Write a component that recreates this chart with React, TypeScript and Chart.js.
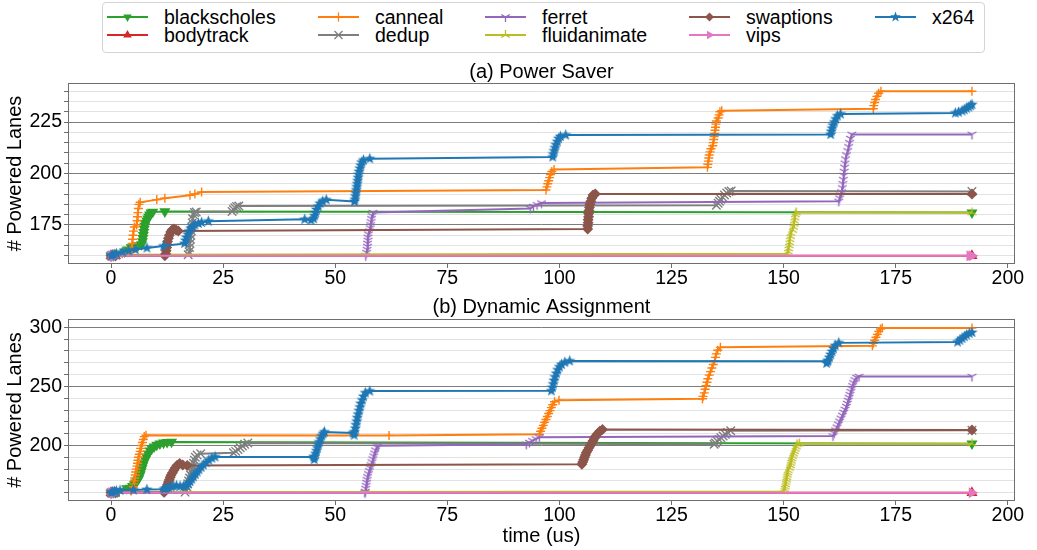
import React, { useEffect, useRef } from 'react';
import { Chart, registerables } from 'chart.js';

Chart.register(...registerables);

// ---------------- data ----------------
const seriesNames = ['blackscholes', 'bodytrack', 'canneal', 'dedup', 'ferret', 'fluidanimate', 'swaptions', 'vips', 'x264'];

const xTickValues = [0, 25, 50, 75, 100, 125, 150, 175, 200];
const topGridValues = [160, 165, 170, 175, 180, 185, 190, 195, 200, 205, 210, 215, 220, 225, 230, 235, 240];
const topLabelValues = [175, 200, 225];
const bottomGridValues = [160, 170, 180, 190, 200, 210, 220, 230, 240, 250, 260, 270, 280, 290, 300];
const bottomLabelValues = [200, 250, 300];

// (a) Power Saver  [time, lanes]
const psBlackscholes = [[0,160],[0.5,160.2],[1,160.5],[3,162],[3.8,163],[4.5,164],[5.3,164.5],[6,165],[6.8,165.5],[7,167],[7.1,168.5],[7.2,170],[7.3,171.5],[7.4,173],[7.5,174.5],[7.6,176],[8,177],[8.2,178],[8.4,179],[8.6,180],[8.9,181],[9.3,181.3],[12,181.5],[192,181]];
const psBodytrack = [[0,160],[0.3,160],[0.7,160],[1,160],[192,160]];
const psCanneal = [[0,160],[1,160.3],[2.5,161],[3.8,161.5],[4.5,162],[4.6,164],[4.7,166],[4.8,168],[4.9,170],[5,172],[5.2,174],[5.7,175],[5.8,177],[5.9,179],[6,181],[6.1,183],[6.2,185],[6.5,186],[10.2,187.3],[12,188],[17.6,189.4],[18.7,190],[20.2,191],[97,192],[97.2,193.5],[97.4,195],[97.6,196.5],[97.8,198],[98,199.5],[98.3,201],[98.8,202],[133,203],[133.1,204.5],[133.2,206],[133.3,207.5],[133.4,209],[133.6,210.5],[133.8,212],[134.2,213.5],[134.3,215],[134.4,216.5],[134.5,218],[134.6,219.5],[134.7,221],[134.8,222.5],[134.9,224],[135,225.5],[135.4,227],[135.6,228.5],[135.8,230],[136.2,230.5],[170,231.5],[170.1,233],[170.3,234.5],[170.5,236],[170.8,237.5],[171.2,239],[171.7,240],[192,240]];
const psDedup = [[0,160],[1,160.3],[17.2,160.5],[17.4,162],[17.5,164],[17.6,166],[17.7,168],[17.8,170],[17.9,172],[18,174],[18.1,176],[18.2,178],[18.4,180],[18.6,181],[19,181.3],[27,181.5],[27.3,182.5],[27.6,183.3],[28,184],[28.5,184.2],[135,184.6],[135.4,185.5],[135.7,186.5],[136,187.5],[136.4,188.5],[136.8,189.5],[137.3,190.5],[137.8,191.2],[138.3,191.5],[192,191.3]];
const psFerret = [[0,160],[1,160],[56.8,160],[57,161.5],[57.1,163],[57.2,164.5],[57.2,166],[57.3,167.5],[57.3,169],[57.4,170.5],[57.6,172],[57.8,173.5],[57.9,175],[58,176.5],[58.1,178],[58.2,179.5],[58.4,181],[93.5,183],[94.2,184],[95,184.8],[96,185.6],[162.3,186.5],[162.5,188],[162.7,189.5],[162.9,191],[163.1,193],[163.2,195],[163.3,197],[163.4,199],[163.5,201],[163.6,203],[163.7,205],[163.8,207],[164,209],[164.3,211],[164.5,213],[164.7,215],[164.9,217],[165.2,219],[192,219]];
const psFluidanimate = [[0,160],[0.5,160.5],[1,160.5],[150.8,161],[151,162],[151.1,163.5],[151.2,165],[151.3,166.5],[151.4,168],[151.5,169.5],[151.6,171],[152,172.5],[152.2,174],[152.3,175.5],[152.4,177],[152.5,178.5],[152.6,180],[152.8,181],[192,181]];
const psSwaptions = [[0,160],[1,160],[12,160],[12.2,161],[12.3,162.5],[12.4,164],[12.5,165.5],[12.6,167],[12.8,168.5],[13,170],[13.3,171.5],[13.6,172.5],[14,173],[14.5,172.5],[15,172],[106.3,173],[106.3,174.5],[106.4,176],[106.4,177.5],[106.5,179],[106.5,180.5],[106.6,182],[106.7,183.5],[106.8,185],[107,186.5],[107.2,188],[107.5,189.5],[108,190],[192,190]];
const psVips = [[0,160],[0.2,160],[0.4,160],[0.6,160],[0.8,160],[1,160],[191.5,160],[192,160]];
const psX264 = [[0,160],[0.3,160.3],[0.7,160.6],[1.2,161],[2.5,161.8],[3.9,162.4],[5.4,163],[8,163.8],[11.7,164.7],[16.4,166],[16.6,167.5],[16.8,169],[17.1,170.5],[17.4,172],[17.8,173.4],[18.3,174.2],[18.7,175],[19.5,175.7],[20.2,176.2],[21.7,176.8],[43.2,177.7],[44.6,177.3],[45.2,178],[45.4,179.5],[45.6,181],[45.8,182.5],[46.2,184],[46.6,185.5],[47.2,186.5],[48,187.2],[54.3,186.4],[54.4,187.5],[54.5,189],[54.6,190.5],[54.7,192],[54.8,193.5],[54.9,195],[55,196.5],[55.1,198],[55.2,199.5],[55.3,201],[55.5,202.5],[55.7,204],[55.9,205.5],[56.3,206.5],[57.7,207.2],[98.5,208],[98.6,209.5],[98.8,211],[99,212.5],[99.2,214],[99.5,215.5],[99.8,217],[100.2,218],[101.4,218.7],[160.5,219],[160.6,220.5],[160.8,222],[161,223.5],[161.3,225],[161.6,226.5],[162,228],[162.7,228.9],[188.3,229.4],[189,229.8],[189.8,230.4],[190.3,231],[190.8,231.7],[191.3,232.3],[191.7,233],[192,233.5]];

// (b) Dynamic Assignment  [time, lanes]
const daBlackscholes = [[0,160],[0.5,160.3],[1.5,161],[3.5,163.7],[4.3,164],[4.8,165.5],[5.2,167],[5.5,168.5],[5.8,170],[6.1,171.5],[6.3,173.5],[6.5,175.5],[6.7,178],[6.9,180.5],[7.1,183],[7.3,185.5],[7.6,188],[7.9,190.5],[8.3,193],[8.7,195.5],[9.1,197.5],[9.6,199],[10.2,200.5],[10.9,201.5],[11.7,202.3],[12.5,202.8],[13.5,203],[192,201.5]];
const daBodytrack = [[0,160],[0.4,160],[0.8,160],[192,160]];
const daCanneal = [[0,160],[1,160.3],[4.5,161.5],[4.9,162.6],[5,165],[5.1,167.5],[5.2,170],[5.3,172.5],[5.4,175],[5.5,177.5],[5.6,180],[5.8,182.5],[5.9,185],[6,187.5],[6.1,190],[6.3,192.5],[6.5,195],[6.6,197.5],[6.8,200],[7,202.5],[7.2,205],[7.4,207.5],[7.8,208.6],[62,208.5],[95.5,209.5],[95.8,212],[96.1,214.5],[96.4,217],[96.7,219.5],[97,222],[97.3,224.5],[97.6,227],[97.9,229.5],[98.2,232],[98.5,234.5],[98.9,237],[99.9,238.2],[131.9,239.5],[132,241.5],[132.3,244.5],[132.5,247.5],[132.7,250.5],[132.9,253.5],[133.1,256.5],[133.4,259.5],[133.7,262.5],[134,265.5],[134.3,268.5],[134.6,271.5],[134.8,274.5],[135,277.5],[135.3,280.5],[135.9,283],[169.8,284.3],[170,286.5],[170.3,289],[170.6,291.5],[170.9,294],[171.2,296.5],[171.6,298.5],[172,299.3],[192,299.3]];
const daDedup = [[0,160],[1,160.2],[16.5,160.5],[16.7,162.5],[16.9,165],[17.1,167.5],[17.3,170],[17.5,172.5],[17.7,175],[17.9,177.5],[18.1,180],[18.3,182.5],[18.4,185],[18.6,187.5],[18.8,190],[19.2,192],[20,193],[27.3,193.8],[27.8,195],[28.3,196.5],[28.8,198],[29.3,199.5],[29.8,201],[30.5,202],[134.5,201],[134.8,202],[135.2,203.5],[135.6,205],[136,206.5],[136.5,208],[137,209.5],[137.5,211],[138.2,212.5],[192,212.8]];
const daFerret = [[0,160],[1,160],[56.6,160],[56.7,161],[56.8,163.5],[56.9,166],[57,168.5],[57.1,171],[57.2,173.5],[57.4,176],[57.6,178.5],[57.8,181],[58,183.5],[58.2,186],[58.4,188.5],[58.6,191],[58.8,193.5],[59,196],[59.3,198.5],[59.6,199.7],[92.6,201],[93.3,202.5],[94,204],[94.8,205.5],[95.5,207],[161,208],[161.3,210.5],[161.6,213],[161.9,215.5],[162.2,218],[162.5,220.5],[162.8,223],[163.1,225.5],[163.4,228],[163.7,230.5],[164,233],[164.2,235.5],[164.4,238],[164.6,240.5],[164.8,243],[165,245.5],[165.2,248],[165.4,250.5],[165.6,253],[165.9,255.5],[166.3,257.5],[166.8,258.3],[192,258.3]];
const daFluidanimate = [[0,160],[1,160.5],[150,161],[150.2,163],[150.3,165],[150.4,167],[150.5,169],[150.6,171],[150.7,173],[150.8,175],[150.9,177],[151,179],[151.3,181],[151.5,183],[151.6,185],[151.7,187],[151.8,189],[152,191],[152.2,193],[152.4,195],[152.6,197],[152.8,199],[153,201],[153.5,201.5],[192,201.5]];
const daSwaptions = [[0,160],[1,160],[11.8,160.5],[12,161],[12.2,163],[12.4,165],[12.6,167],[12.8,169],[13,171],[13.2,173],[13.4,175],[13.7,177],[14,179],[14.3,181],[14.7,183],[15.3,184.7],[16,183.5],[17,183],[105,184],[105.2,186],[105.4,188],[105.6,190],[105.8,192],[106,194],[106.3,196],[106.6,198],[106.9,200],[107.2,202],[107.5,204],[107.8,206],[108.1,208],[108.5,210],[109,212],[109.6,213.5],[192,213]];
const daVips = [[0,160],[0.2,160],[0.5,160],[0.8,160],[1,160],[192,160]];
const daX264 = [[0,160],[0.3,160.5],[0.7,161],[1.2,161.5],[2,162],[5,162.4],[8,162.7],[11.8,163],[12.2,163.5],[12.8,164.5],[13.4,165],[14,165.5],[14.6,165.8],[15.4,165.5],[16.2,165.2],[16.8,166],[17.2,167.5],[17.6,169.5],[18,171.5],[18.4,173.5],[18.8,175.5],[19.2,177.5],[19.6,179.5],[20.1,181.5],[20.6,183.5],[21.2,185.5],[21.8,187.5],[22.5,189.2],[23.2,190.3],[45.2,190.3],[45.3,188],[45.4,190.5],[45.6,193],[45.8,195.5],[46,198],[46.2,200.5],[46.4,203],[46.7,205.5],[47,208],[47.3,210],[47.6,211.4],[54,210.6],[54.2,208.7],[54.3,211.5],[54.5,214.5],[54.6,217.5],[54.8,220.5],[54.9,223.5],[55.1,226.5],[55.3,229.5],[55.5,232.5],[55.7,235.5],[56,238.5],[56.3,241.5],[56.7,244.5],[57.7,246],[98.2,246.2],[98.4,249],[98.6,252],[98.8,255],[99,258],[99.3,261],[99.6,264],[100,266.5],[100.5,268.5],[101.2,270.3],[102.3,271.5],[159.8,271.2],[159.6,269.5],[159.9,272],[160.2,274.5],[160.5,277],[160.8,279.5],[161.1,282],[161.5,284.5],[162.3,286.8],[188.8,287.5],[189.3,289],[189.8,290.5],[190.3,292],[190.8,293.5],[191.4,294.8],[192,295.6]];

const powerSaverSeries = [psBlackscholes, psBodytrack, psCanneal, psDedup, psFerret, psFluidanimate, psSwaptions, psVips, psX264];
const dynamicSeries = [daBlackscholes, daBodytrack, daCanneal, daDedup, daFerret, daFluidanimate, daSwaptions, daVips, daX264];

// ---------------- styles ----------------
const seriesColors = ['#2ca02c', '#d62728', '#ff7f0e', '#7f7f7f', '#9467bd', '#bcbd22', '#8c564b', '#e377c2', '#1f77b4'];
const seriesMarkers = ['triDownFilled', 'triUpFilled', 'plus', 'cross', 'tri1', 'tri2', 'diamond', 'triRight', 'star'];
const FONT = '"Liberation Sans", Arial, Helvetica, sans-serif';
const GRID_MAJOR = '#7d7d7d';
const GRID_MINOR = '#e2e2e2';
const FRAME = '#6e6e6e';
const TICK_SIZE = 19.5;
const LEGEND_SIZE = 19.5;

function makeMarkerImage(kind: string, color: string): HTMLCanvasElement {
  const c = document.createElement('canvas');
  c.width = 13; c.height = 13;
  const g = c.getContext('2d') as CanvasRenderingContext2D;
  g.strokeStyle = color; g.fillStyle = color; g.lineWidth = 1.4; g.lineCap = 'butt';
  const cx = 6.5, cy = 6.5;
  if (kind === 'star') {
    g.beginPath();
    for (let i = 0; i < 10; i++) {
      const rad = i % 2 === 0 ? 6 : 2.5;
      const a = -Math.PI / 2 + (i * Math.PI) / 5;
      const px = cx + rad * Math.cos(a), py = cy + rad * Math.sin(a);
      if (i === 0) g.moveTo(px, py); else g.lineTo(px, py);
    }
    g.closePath(); g.fill();
  } else {
    const r = 5;
    const arms = kind === 'tri1'
      ? [[0, r], [-0.866 * r, -0.5 * r], [0.866 * r, -0.5 * r]]
      : [[0, -r], [-0.866 * r, 0.5 * r], [0.866 * r, 0.5 * r]];
    g.beginPath();
    arms.forEach(([dx, dy]) => { g.moveTo(cx, cy); g.lineTo(cx + dx, cy + dy); });
    g.stroke();
  }
  return c;
}

function pointStyleFor(kind: string, color: string): { style: any; rotation: number; radius: number } {
  switch (kind) {
    case 'triDownFilled': return { style: 'triangle', rotation: 180, radius: 5 };
    case 'triUpFilled': return { style: 'triangle', rotation: 0, radius: 5 };
    case 'triRight': return { style: 'triangle', rotation: 90, radius: 5 };
    case 'plus': return { style: 'cross', rotation: 0, radius: 4.5 };
    case 'cross': return { style: 'crossRot', rotation: 0, radius: 6 };
    case 'diamond': return { style: 'rectRot', rotation: 0, radius: 4.5 };
    default: return { style: makeMarkerImage(kind, color), rotation: 0, radius: 5 };
  }
}

const framePlugin = {
  id: 'frameBox',
  afterDraw(chart: any) {
    const { ctx, chartArea } = chart;
    const l = Math.round(chartArea.left), t = Math.round(chartArea.top);
    const r = Math.round(chartArea.right), b = Math.round(chartArea.bottom);
    ctx.save();
    ctx.strokeStyle = FRAME;
    ctx.lineWidth = 1;
    ctx.strokeRect(l + 0.5, t + 0.5, r - l - 1, b - t - 1);
    ctx.restore();
  },
};

type PanelProps = {
  top: number; height: number; title: string; series: number[][][];
  yMin: number; yMax: number; yGrid: number[]; yLabels: number[];
  xAxisHeight: number; titlePadBottom: number; showXTitle: boolean;
};

function Panel(p: PanelProps) {
  const ref = useRef<HTMLCanvasElement | null>(null);
  useEffect(() => {
    if (!ref.current) return;
    const datasets = p.series.map((pts, i) => {
      const ps = pointStyleFor(seriesMarkers[i], seriesColors[i]);
      return {
        label: seriesNames[i],
        data: pts.map(([x, y]) => ({ x, y })),
        borderColor: seriesColors[i],
        backgroundColor: seriesColors[i],
        pointBackgroundColor: seriesColors[i],
        pointBorderColor: seriesColors[i],
        pointStyle: ps.style,
        pointRotation: ps.rotation,
        pointRadius: ps.radius,
        pointBorderWidth: 1.4,
        borderWidth: 2,
        tension: 0,
        fill: false,
        order: 20 - i,
      };
    });
    const chart = new Chart(ref.current, {
      type: 'line',
      data: { datasets } as any,
      plugins: [framePlugin],
      options: {
        responsive: false,
        animation: false,
        devicePixelRatio: 1,
        events: [],
        layout: { padding: { left: 0, right: 22, top: 0, bottom: 0 } },
        plugins: {
          legend: { display: false },
          tooltip: { enabled: false },
          title: {
            display: true, text: p.title, fullSize: false, color: '#000',
            font: { family: FONT, size: 20, weight: 'normal', lineHeight: 1 },
            padding: { top: 0, bottom: p.titlePadBottom },
          },
        },
        scales: {
          x: {
            type: 'linear', min: -9.6, max: 201.6,
            afterBuildTicks: (s: any) => { s.ticks = xTickValues.map((v) => ({ value: v })); },
            afterFit: (s: any) => { s.height = p.xAxisHeight; },
            ticks: { autoSkip: false, maxRotation: 0, color: '#000', padding: 1, font: { family: FONT, size: TICK_SIZE, lineHeight: 1 }, callback: (v: any) => String(v) },
            grid: { drawOnChartArea: false, drawTicks: true, tickLength: 4, tickColor: FRAME },
            border: { display: false },
            title: {
              display: p.showXTitle, text: 'time (us)', color: '#000',
              font: { family: FONT, size: 20 }, padding: { top: 0, bottom: 2 },
            },
          },
          y: {
            type: 'linear', min: p.yMin, max: p.yMax,
            afterBuildTicks: (s: any) => { s.ticks = p.yGrid.map((v) => ({ value: v })); },
            afterFit: (s: any) => { s.width = 68; },
            ticks: { autoSkip: false, color: '#000', padding: 2, font: { family: FONT, size: TICK_SIZE }, callback: (v: any) => (p.yLabels.includes(Number(v)) ? String(v) : '') },
            grid: {
              color: (c: any) => (c.tick && p.yLabels.includes(c.tick.value) ? GRID_MAJOR : GRID_MINOR),
              lineWidth: 1, tickLength: 4, tickColor: FRAME,
            },
            border: { display: false },
            title: {
              display: true, text: '# Powered Lanes', color: '#000',
              font: { family: FONT, size: 20 }, padding: { top: 3, bottom: 0 },
            },
          },
        },
      } as any,
    });
    return () => chart.destroy();
  }, []);
  return (
    <canvas
      ref={ref}
      width={1037}
      height={p.height}
      style={{ position: 'absolute', left: 0, top: p.top, width: 1037, height: p.height, display: 'block' }}
    />
  );
}

const legendColX = [107, 318, 485, 689, 875];

function LegendIcon({ kind, color }: { kind: string; color: string }) {
  const cx = 20.5, cy = 9;
  let marker: any = null;
  if (kind === 'triDownFilled') marker = <polygon points={`${cx - 4.3},${cy - 2.5} ${cx + 4.3},${cy - 2.5} ${cx},${cy + 5}`} fill={color} />;
  else if (kind === 'triUpFilled') marker = <polygon points={`${cx - 4.3},${cy + 2.5} ${cx + 4.3},${cy + 2.5} ${cx},${cy - 5}`} fill={color} />;
  else if (kind === 'triRight') marker = <polygon points={`${cx - 2.5},${cy - 4.3} ${cx - 2.5},${cy + 4.3} ${cx + 5},${cy}`} fill={color} />;
  else if (kind === 'plus') marker = <path d={`M${cx - 4.5},${cy} H${cx + 4.5} M${cx},${cy - 4.5} V${cy + 4.5}`} stroke={color} strokeWidth={1.3} />;
  else if (kind === 'cross') marker = <path d={`M${cx - 4},${cy - 4} L${cx + 4},${cy + 4} M${cx - 4},${cy + 4} L${cx + 4},${cy - 4}`} stroke={color} strokeWidth={1.3} />;
  else if (kind === 'diamond') marker = <polygon points={`${cx},${cy - 4.5} ${cx + 4.5},${cy} ${cx},${cy + 4.5} ${cx - 4.5},${cy}`} fill={color} />;
  else if (kind === 'tri1') marker = <path d={`M${cx},${cy} V${cy + 5} M${cx},${cy} L${cx - 4.3},${cy - 2.5} M${cx},${cy} L${cx + 4.3},${cy - 2.5}`} stroke={color} strokeWidth={1.3} />;
  else if (kind === 'tri2') marker = <path d={`M${cx},${cy} V${cy - 5} M${cx},${cy} L${cx - 4.3},${cy + 2.5} M${cx},${cy} L${cx + 4.3},${cy + 2.5}`} stroke={color} strokeWidth={1.3} />;
  else if (kind === 'star') {
    const pts: string[] = [];
    for (let i = 0; i < 10; i++) {
      const rad = i % 2 === 0 ? 5.5 : 2.3;
      const a = -Math.PI / 2 + (i * Math.PI) / 5;
      pts.push(`${(cx + rad * Math.cos(a)).toFixed(2)},${(cy + rad * Math.sin(a)).toFixed(2)}`);
    }
    marker = <polygon points={pts.join(' ')} fill={color} />;
  }
  return (
    <svg width={41} height={18} style={{ display: 'block' }}>
      <line x1={0} y1={cy} x2={41} y2={cy} stroke={color} strokeWidth={2} />
      {marker}
    </svg>
  );
}

function Legend() {
  return (
    <div style={{ position: 'absolute', left: 102, top: 2, width: 883, height: 51, border: '1px solid #d4d4d4', borderRadius: 4, background: '#fff', boxSizing: 'border-box' }}>
      {seriesNames.map((name, i) => {
        const col = Math.floor(i / 2), row = i % 2;
        const lineLeft = legendColX[col] - 103;
        const iconTop = row === 0 ? 4.7 : 23;
        const textTop = row === 0 ? 4.5 : 22.8;
        return (
          <React.Fragment key={name}>
            <div style={{ position: 'absolute', left: lineLeft, top: iconTop }}>
              <LegendIcon kind={seriesMarkers[i]} color={seriesColors[i]} />
            </div>
            <span style={{ position: 'absolute', left: lineLeft + 57, top: textTop, fontFamily: FONT, fontSize: LEGEND_SIZE, lineHeight: `${LEGEND_SIZE}px`, color: '#000', whiteSpace: 'nowrap' }}>{name}</span>
          </React.Fragment>
        );
      })}
    </div>
  );
}

export default function App() {
  return (
    <div style={{ position: 'absolute', left: 0, top: 0, width: 1037, height: 550, background: '#fff', overflow: 'hidden' }}>
      <Legend />
      <Panel top={62} height={232} title="(a) Power Saver" series={powerSaverSeries}
        yMin={156} yMax={244} yGrid={topGridValues} yLabels={topLabelValues}
        xAxisHeight={30} titlePadBottom={1} showXTitle={false} />
      <Panel top={297} height={253} title="(b) Dynamic Assignment" series={dynamicSeries}
        yMin={153} yMax={307} yGrid={bottomGridValues} yLabels={bottomLabelValues}
        xAxisHeight={49} titlePadBottom={2} showXTitle={true} />
    </div>
  );
}
